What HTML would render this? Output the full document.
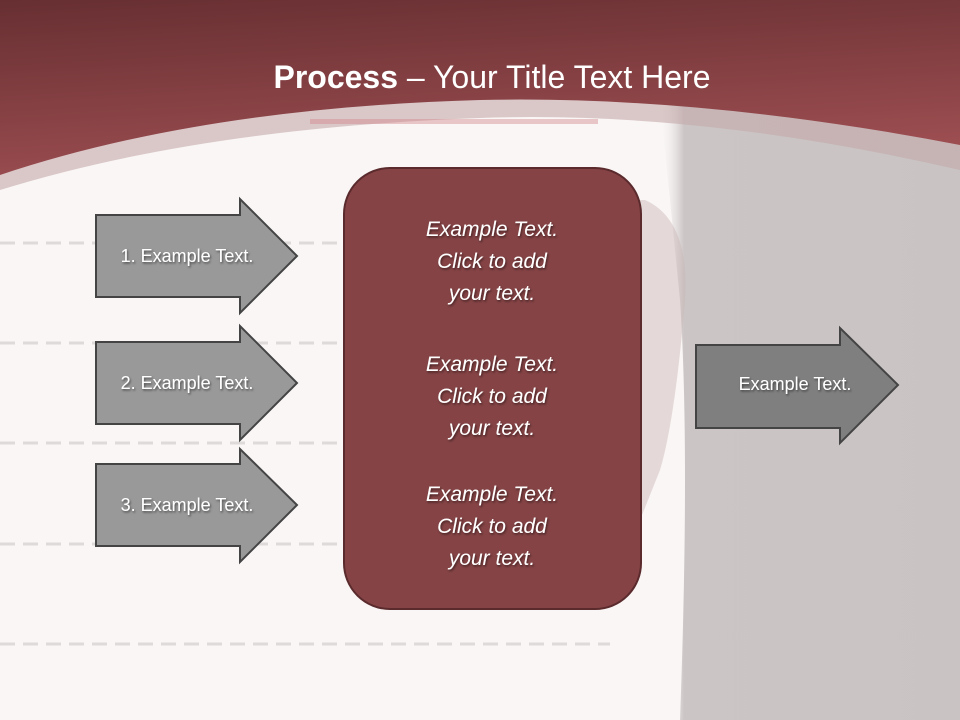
<!DOCTYPE html>
<html><head><meta charset="utf-8"><style>
html,body{margin:0;padding:0;width:960px;height:720px;overflow:hidden;background:#f9f6f5}
text{font-family:"Liberation Sans",sans-serif}
</style></head><body>
<svg width="960" height="720" viewBox="0 0 960 720" xmlns="http://www.w3.org/2000/svg">
<defs>
<linearGradient id="hd" x1="0" y1="0" x2="0.3" y2="1">
<stop offset="0" stop-color="#672f32"/><stop offset="1" stop-color="#9b4d50"/></linearGradient>
<linearGradient id="gp" x1="0" y1="0" x2="1" y2="0">
<stop offset="0" stop-color="#f9f6f5" stop-opacity="0"/><stop offset="0.08" stop-color="#cbc5c5"/><stop offset="1" stop-color="#c9c3c3"/></linearGradient>
<filter id="sh"><feDropShadow dx="1" dy="1.5" stdDeviation="1" flood-color="#000" flood-opacity="0.5"/></filter>
</defs>
<rect width="960" height="720" fill="#f9f6f5"/>
<path d="M660 100 L960 100 L960 720 L680 720 Q690 450 680 300 Z" fill="url(#gp)"/>
<path d="M645 200 Q690 220 685 300 Q675 420 660 470 L640 520 L640 200 Z" fill="#c9b6b6" opacity="0.45"/>
<g stroke="#dedada" stroke-width="3" stroke-dasharray="15 8">
<line x1="0" y1="243" x2="610" y2="243"/><line x1="0" y1="343" x2="610" y2="343"/>
<line x1="0" y1="443" x2="610" y2="443"/><line x1="0" y1="544" x2="610" y2="544"/>
<line x1="0" y1="644" x2="610" y2="644"/></g>
<path d="M0 0 H960 V170 Q700 110 480 118 Q200 128 0 190 Z" fill="#c4a8aa" opacity="0.6"/>
<path d="M0 0 H960 V145 Q700 95 480 100 Q200 108 0 175 Z" fill="url(#hd)"/>
<rect x="310" y="119" width="288" height="5" fill="#d38a8e" opacity="0.45"/>
<text x="492" y="88" text-anchor="middle" font-size="32" fill="#fff"><tspan font-weight="bold">Process</tspan> – Your Title Text Here</text>
<rect x="344" y="168" width="297" height="441" rx="46" fill="#854345" stroke="#5a2a2c" stroke-width="2"/>
<g fill="#999" stroke="#444" stroke-width="2">
<path d="M96 215 H240 V199 L297 256 L240 313 V297 H96 Z"/>
<path d="M96 342 H240 V326 L297 383 L240 440 V424 H96 Z"/>
<path d="M96 464 H240 V449 L297 505 L240 562 V546 H96 Z"/>
</g>
<path d="M696 345 H840 V328 L898 385 L840 443 V428 H696 Z" fill="#7f7f7f" stroke="#444" stroke-width="2"/>
<g fill="#fff" font-size="18" filter="url(#sh)">
<text x="187" y="262" text-anchor="middle">1. Example Text.</text>
<text x="187" y="389" text-anchor="middle">2. Example Text.</text>
<text x="187" y="511" text-anchor="middle">3. Example Text.</text>
<text x="795" y="390" text-anchor="middle">Example Text.</text>
</g>
<g fill="#fff" font-size="21" font-style="italic" text-anchor="middle" filter="url(#sh)">
<text x="492" y="236">Example Text.</text><text x="492" y="268">Click  to add</text><text x="492" y="300">your text.</text>
<text x="492" y="371">Example Text.</text><text x="492" y="403">Click  to add</text><text x="492" y="435">your text.</text>
<text x="492" y="501">Example Text.</text><text x="492" y="533">Click  to add</text><text x="492" y="565">your text.</text>
</g>
</svg>
</body></html>
